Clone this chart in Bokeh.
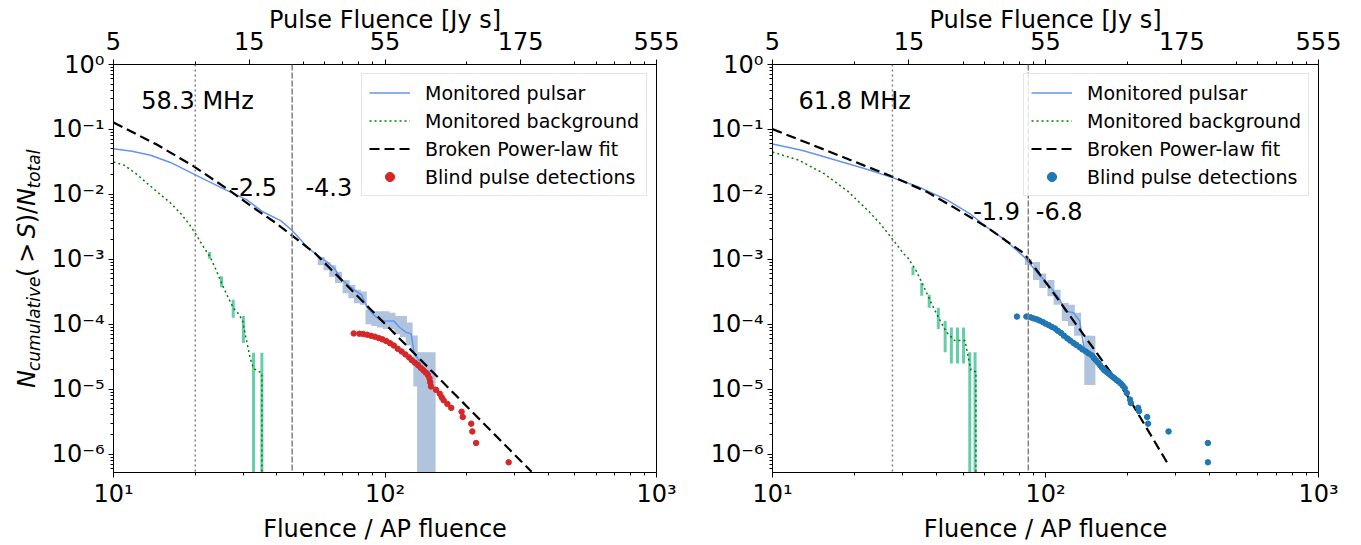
import math
from bokeh.plotting import figure
from bokeh.models import (Range1d, LogAxis, FixedTicker, CustomJSTickFormatter,
                          Span, Label, Legend, LegendItem)
from bokeh.layouts import row
from bokeh.embed import file_html
from bokeh.resources import INLINE

FONT = "DejaVu Sans"

# ---------------- ticks / labels ----------------
X_MAJOR = [10, 100, 1000]
X_MINOR = [20, 30, 40, 50, 60, 70, 80, 90, 200, 300, 400, 500, 600, 700, 800, 900]
Y_MAJOR = [1, 1e-1, 1e-2, 1e-3, 1e-4, 1e-5, 1e-6]
Y_MINOR = [m * 10.0 ** (-k) for k in range(1, 8) for m in range(2, 10)]
TOP_POS = [10, 31.62, 100, 316.2, 1000]
TOP_LABELS = ["5", "15", "55", "175", "555"]
TOP_MINOR = [20, 50, 60, 70, 80, 90, 200, 500, 600, 700, 800, 900]

# ---------------- 58.3 MHz panel ----------------
a_freq = "58.3 MHz"
a_idx = ["-2.5", "-4.3"]
a_vlines = [20.0, 45.5]

a_pul_x = [10, 11.7, 13.7, 16.2, 20.1, 25.9, 30.9, 35.2, 41.4, 45.6, 52.0, 57.3, 61.1, 65.2,
           69.5, 76.7, 81.8, 86.0, 91.7, 97.7, 107.8, 113.3, 118.9, 124.8, 128.0, 133.0,
           137.5, 149.2]
a_pul_y = [0.0503, 0.0462, 0.0400, 0.0310, 0.0198, 0.0117, 8.3e-3, 5.5e-3, 3.9e-3, 2.75e-3,
           1.5e-3, 1.1e-3, 9.1e-4, 7.2e-4, 4.8e-4, 3.4e-4, 2.85e-4, 1.79e-4, 1.34e-4, 1.12e-4,
           1.12e-4, 8.9e-5, 7.6e-5, 7.1e-5, 3.7e-5, 2.8e-5, 1.96e-5, 1.86e-5]

a_pulerr_x = [58.2, 61.1, 64.2, 67.4, 71.9, 75.5, 79.2, 83.2, 87.3, 91.7, 96.2, 101, 106.1,
              111.4, 116.9, 122.7, 128.1, 131, 135.3, 142, 149.1]
a_pulerr_hi = [1.08e-3, 9.1e-4, 8.1e-4, 6.4e-4, 4.8e-4, 4.0e-4, 3.4e-4, 3.2e-4, 1.69e-4, 1.59e-4,
               1.59e-4, 1.59e-4, 1.5e-4, 1.34e-4, 1.34e-4, 1.06e-4, 6.7e-5, 3.7e-5, 3.7e-5,
               3.7e-5, 3.7e-5]
a_pulerr_lo = [8.1e-4, 6.8e-4, 5.4e-4, 4.3e-4, 3.0e-4, 2.5e-4, 2.1e-4, 2.0e-4, 1.0e-4, 9.4e-5,
               8.9e-5, 8.4e-5, 8.4e-5, 7.0e-5, 6.3e-5, 4.7e-5, 3.7e-5, 1.1e-5, 1e-9, 1e-9, 1e-9]

a_bg_x = [10, 10.95, 12.07, 13.3, 14.9, 16.2, 17.8, 19.0, 20.1, 21.3, 22.7, 23.9, 25.0, 26.3,
          27.6, 29.0, 29.9, 30.9, 31.9, 32.8, 35.2, 35.2]
a_bg_y = [0.0316, 0.0281, 0.021, 0.0148, 9.9e-3, 7.4e-3, 4.9e-3, 3.47e-3, 2.45e-3, 1.63e-3,
          1.08e-3, 6.8e-4, 4.3e-4, 2.7e-4, 1.79e-4, 1.42e-4, 1.12e-4, 5.6e-5, 2.94e-5, 2.08e-5,
          1.75e-5, 1e-9]

a_bgerr_x = [22.6, 25.0, 27.6, 30.1, 32.8, 35.2]
a_bgerr_hi = [1.29e-3, 5.5e-4, 2.39e-4, 1.34e-4, 3.63e-5, 3.63e-5]
a_bgerr_lo = [1.02e-3, 3.7e-4, 1.26e-4, 5.15e-5, 1e-9, 1e-9]

a_fit_x = [10, 14.43, 19.63, 26.73, 32.46, 39.44, 46.39, 55.45, 346.6]
a_fit_y = [0.128, 0.0585, 0.0275, 0.0115, 6.4e-3, 3.67e-3, 2.18e-3, 1.22e-3, 5.33e-7]

a_blind_x = [76.7, 80.5, 83.2, 85.9, 88.8, 91.7, 94.7, 97.8, 101, 104.4, 107.8, 111.4, 115.1,
             118.9, 122.7, 125.6, 128.9, 132.3, 135.3, 138.4, 141.1, 143.9, 145.8, 146.7, 147.7,
             154.1, 159.1, 161.8, 164.4, 169.8, 175.4, 191.5, 193.4, 207.7, 209.7, 216.6, 285.4]
a_blind_y = [7.21e-5, 7.13e-5, 7.05e-5, 6.89e-5, 6.65e-5, 6.43e-5, 6.13e-5, 5.85e-5, 5.52e-5,
             5.09e-5, 4.69e-5, 4.18e-5, 3.8e-5, 3.43e-5, 3.08e-5, 2.78e-5, 2.56e-5, 2.34e-5,
             2.13e-5, 1.96e-5, 1.81e-5, 1.65e-5, 1.47e-5, 1.28e-5, 1.1e-5, 9.77e-6, 8.5e-6,
             7.47e-6, 6.73e-6, 5.92e-6, 5.15e-6, 4.48e-6, 3.72e-6, 2.94e-6, 2.23e-6, 1.48e-6,
             7.46e-7]

# ---------------- 61.8 MHz panel ----------------
b_freq = "61.8 MHz"
b_idx = ["-1.9", "-6.8"]
b_vlines = [27.5, 86.5]

b_pul_x = [10, 12.9, 17.1, 21.7, 27.5, 34.0, 43.4, 53.3, 61.3, 70.4, 83.6, 86.5, 92.7, 102.9,
           112.2, 118.1, 126.6, 133.4, 138.0, 142.9]
b_pul_y = [0.0598, 0.0475, 0.0335, 0.025, 0.0181, 0.0132, 8.3e-3, 4.9e-3, 3.08e-3, 2.05e-3,
           1.08e-3, 9.1e-4, 6.4e-4, 4.0e-4, 2.5e-4, 1.59e-4, 1.5e-4, 1.12e-4, 4.69e-5, 3.3e-5]

b_pulerr_x = [86.5, 92.7, 97.7, 104.7, 110.3, 118.1, 124.4, 131.1, 142.9, 147.9]
b_pulerr_hi = [1.0e-3, 9.1e-4, 6.05e-4, 4.8e-4, 3.39e-4, 2.13e-4, 2.0e-4, 1.5e-4, 6.65e-5, 6.65e-5]
b_pulerr_lo = [8.2e-4, 4.8e-4, 3.6e-4, 2.7e-4, 2.0e-4, 1.12e-4, 9.4e-5, 6.65e-5, 1.16e-5, 1.16e-5]

b_bg_x = [10, 12.5, 15.4, 18.9, 22.5, 24.9, 27.5, 30.2, 31.2, 33.5, 35.8, 38.4, 41.2, 43.4,
          46.5, 50.7, 53.3, 55.6, 55.6]
b_bg_y = [0.0448, 0.0335, 0.021, 0.0111, 5.5e-3, 3.47e-3, 2.05e-3, 1.22e-3, 1.08e-3, 6.8e-4,
          3.8e-4, 2.0e-4, 1.12e-4, 7.5e-5, 5.6e-5, 5.6e-5, 1.96e-5, 1.85e-5, 1e-9]

b_bgerr_x = [32.7, 35.2, 37.5, 40.5, 42.9, 45.2, 47.6, 50.1, 52.8, 55.2]
b_bgerr_hi = [7.6e-4, 4.3e-4, 2.84e-4, 1.79e-4, 1.12e-4, 8.9e-5, 8.9e-5, 8.9e-5, 3.7e-5, 3.7e-5]
b_bgerr_lo = [5.7e-4, 2.75e-4, 1.79e-4, 8.4e-5, 3.7e-5, 2.48e-5, 2.48e-5, 2.48e-5, 1e-9, 1e-9]

b_fit_x = [10, 15.4, 21.7, 27.5, 36.5, 46.5, 61.3, 83.6, 102.9, 198.5, 280.6]
b_fit_y = [0.101, 0.0493, 0.0277, 0.0187, 0.0111, 6.19e-3, 3.08e-3, 1.22e-3, 3.8e-4, 8.2e-6, 7.1e-7]

b_blind_x = [78.6, 85.1, 88.1, 90.2, 92.8, 95.0, 97.7, 100.1, 102.9, 105.4, 108.4, 111.0, 114.1,
             116.9, 120.2, 123.1, 126.6, 129.7, 133.4, 136.6, 140.5, 143.9, 147.9, 150.5, 153.1,
             155.8, 158.5, 161.3, 164.1, 167.0, 169.9, 172.8, 175.9, 178.9, 182.0, 185.2, 188.4,
             191.7, 195.1, 198.5, 204.0, 205.4, 218.6, 220.1, 235.8, 237.5, 282.3, 393.4, 393.4]
b_blind_y = [1.31e-4, 1.31e-4, 1.28e-4, 1.23e-4, 1.19e-4, 1.14e-4, 1.08e-4, 1.02e-4, 9.64e-5,
             9.1e-5, 8.59e-5, 7.9e-5, 7.3e-5, 6.65e-5, 6.05e-5, 5.6e-5, 5.15e-5, 4.8e-5, 4.43e-5,
             4.08e-5, 3.8e-5, 3.55e-5, 3.31e-5, 3.01e-5, 2.78e-5, 2.56e-5, 2.33e-5, 2.13e-5,
             1.96e-5, 1.85e-5, 1.75e-5, 1.65e-5, 1.55e-5, 1.47e-5, 1.38e-5, 1.31e-5, 1.23e-5,
             1.14e-5, 1.03e-5, 8.7e-6, 6.9e-6, 6.1e-6, 5.15e-6, 4.58e-6, 3.72e-6, 2.94e-6,
             2.23e-6, 1.48e-6, 7.46e-7]

LEGEND_LABELS = ["Monitored pulsar", "Monitored background", "Broken Power-law fit",
                 "Blind pulse detections"]

# y-axis title pieces of  N_cumulative(>S)/N_total :
# (text, style, font px, offset along the text in px, piece length in px, subscript shift px)
YLABEL_PIECES = [("N", "italic", 24, 0.0, 18.0, 0), ("cumulative", "italic", 17, 18.0, 94.5, 4),
                 ("(", "normal", 24, 113.0, 9.4, 0), (">", "normal", 24, 127.4, 20.1, 0),
                 ("S", "italic", 24, 152.5, 15.2, 0), (")", "normal", 24, 167.7, 9.4, 0),
                 ("/", "normal", 24, 177.1, 8.1, 0), ("N", "italic", 24, 185.2, 18.0, 0),
                 ("total", "italic", 17, 203.2, 38.9, 4)]

SUP_JS = """
const e = Math.round(Math.log10(tick));
const m = {"-": "\u207b", "0": "\u2070", "1": "\u00b9", "2": "\u00b2", "3": "\u00b3",
           "4": "\u2074", "5": "\u2075", "6": "\u2076", "7": "\u2077", "8": "\u2078", "9": "\u2079"};
let s = "";
for (const c of String(e)) { s += m[c]; }
return "10" + s;
"""

TOP_JS = """
let best = 0;
for (let i = 0; i < pos.length; i++) {
  if (Math.abs(Math.log10(pos[i] / tick)) < Math.abs(Math.log10(pos[best] / tick))) best = i;
}
return labs[best];
"""

H = 545
LAB_W = 48
B_TOP = 64
B_BOT = 66


def style_axis(ax):
    ax.major_label_text_font = FONT
    ax.major_label_text_font_size = "24px"
    ax.major_label_text_color = "black"
    ax.axis_label_text_font = FONT
    ax.axis_label_text_font_size = "24px"
    ax.axis_label_text_font_style = "normal"
    ax.axis_label_text_color = "black"
    ax.axis_line_color = "black"
    ax.axis_line_width = 1
    ax.major_tick_line_color = "black"
    ax.minor_tick_line_color = "black"
    ax.major_tick_in = 0
    ax.major_tick_out = 5
    ax.minor_tick_in = 0
    ax.minor_tick_out = 3


def make_label_strip():
    # narrow strip left of the first panel; its frame spans the same rows as the panels,
    # and its data coordinates equal page pixels measured from the page bottom
    s = figure(width=LAB_W, height=H, x_range=Range1d(0, LAB_W),
               y_range=Range1d(B_BOT, H - B_TOP),
               x_axis_location=None, y_axis_location=None, output_backend="svg",
               toolbar_location=None, min_border=0, min_border_left=0, min_border_right=0,
               min_border_top=B_TOP, min_border_bottom=B_BOT)
    s.xgrid.visible = False
    s.ygrid.visible = False
    s.outline_line_color = None
    s.background_fill_color = "white"
    s.border_fill_color = "white"
    baseline_x = 35.0      # page x of the text baseline
    start_y = 393.0        # page y where the rotated title starts (its bottom end)
    for t, st, fs, off, length, sub in YLABEL_PIECES:
        cx = baseline_x + sub - 0.345 * fs          # centre across the text
        cy_page = start_y - off - length / 2.0      # centre along the text
        s.add_layout(Label(x=cx, y=H - cy_page, text=t, angle=math.pi / 2,
                           angle_units="rad", text_font=FONT, text_font_style=st,
                           text_font_size=f"{fs}px", text_align="center",
                           text_baseline="middle", text_color="black"))
    return s


def make_panel(freq, idx, vlines, pul_x, pul_y, pe_x, pe_hi, pe_lo, bg_x, bg_y,
               be_x, be_hi, be_lo, fit_x, fit_y, bl_x, bl_y, dot_color,
               width, bl, br, freq_pos, idx_pos):
    p = figure(width=width, height=H, x_axis_type="log", y_axis_type="log",
               x_range=Range1d(10, 1000), y_range=Range1d(5.2e-7, 1),
               output_backend="svg", toolbar_location=None,
               min_border_left=bl, min_border_right=br, min_border_top=B_TOP,
               min_border_bottom=B_BOT)
    p.xgrid.visible = False
    p.ygrid.visible = False
    p.outline_line_color = "black"
    p.outline_line_width = 1
    p.background_fill_color = "white"
    p.border_fill_color = "white"

    p.xaxis.ticker = FixedTicker(ticks=X_MAJOR, minor_ticks=X_MINOR)
    p.yaxis.ticker = FixedTicker(ticks=Y_MAJOR, minor_ticks=Y_MINOR)
    p.xaxis.formatter = CustomJSTickFormatter(code=SUP_JS)
    p.yaxis.formatter = CustomJSTickFormatter(code=SUP_JS)
    p.xaxis.axis_label = "Fluence / AP fluence"
    style_axis(p.xaxis[0])
    style_axis(p.yaxis[0])
    p.xaxis.major_label_standoff = 2
    p.xaxis.axis_label_standoff = 4
    p.yaxis.major_label_standoff = 4

    top = LogAxis(ticker=FixedTicker(ticks=TOP_POS, minor_ticks=TOP_MINOR),
                  formatter=CustomJSTickFormatter(args=dict(pos=TOP_POS, labs=TOP_LABELS),
                                                  code=TOP_JS),
                  axis_label="Pulse Fluence [Jy s]")
    style_axis(top)
    top.major_label_standoff = 10
    top.axis_label_standoff = -5
    p.add_layout(top, "above")

    p.add_layout(Span(location=vlines[0], dimension="height", line_color="gray",
                      line_dash="2 3", line_width=1.5))
    p.add_layout(Span(location=vlines[1], dimension="height", line_color="gray",
                      line_dash="6 2", line_width=1.5))

    p.segment(x0=be_x, y0=be_lo, x1=be_x, y1=be_hi, line_color="#66cdaa", line_width=3)
    p.segment(x0=pe_x, y0=pe_lo, x1=pe_x, y1=pe_hi, line_color="#b0c4de", line_width=7)
    r_pul = p.line(pul_x, pul_y, line_color="#6495ed", line_width=1.5)
    r_bg = p.line(bg_x, bg_y, line_color="green", line_width=1.5, line_dash="2 3")
    r_fit = p.line(fit_x, fit_y, line_color="black", line_width=2.2, line_dash="10 5")
    r_bl = p.scatter(bl_x, bl_y, size=5.5, fill_color=dot_color, line_color=dot_color)

    legend = Legend(items=[LegendItem(label=LEGEND_LABELS[0], renderers=[r_pul]),
                           LegendItem(label=LEGEND_LABELS[1], renderers=[r_bg]),
                           LegendItem(label=LEGEND_LABELS[2], renderers=[r_fit]),
                           LegendItem(label=LEGEND_LABELS[3], renderers=[r_bl])],
                    location="top_right")
    legend.label_text_font = FONT
    legend.label_text_font_size = "19px"
    legend.label_text_color = "black"
    legend.glyph_width = 41
    legend.glyph_height = 23
    legend.label_height = 23
    legend.label_standoff = 15
    legend.padding = 7
    legend.spacing = 5
    legend.margin = 9
    legend.border_line_color = "#cccccc"
    legend.border_line_width = 1
    legend.background_fill_alpha = 0.8
    p.add_layout(legend)

    p.add_layout(Label(x=freq_pos[0], y=freq_pos[1], text=freq, text_font=FONT,
                       text_font_size="24px", text_align="left",
                       text_baseline="alphabetic", text_color="black"))
    for (tx, ty), t in zip(idx_pos, idx):
        p.add_layout(Label(x=tx, y=ty, text=t, text_font=FONT, text_font_size="24px",
                           text_align="center", text_baseline="alphabetic",
                           text_color="black"))
    return p


strip = make_label_strip()
p1 = make_panel(a_freq, a_idx, a_vlines, a_pul_x, a_pul_y, a_pulerr_x, a_pulerr_hi, a_pulerr_lo,
                a_bg_x, a_bg_y, a_bgerr_x, a_bgerr_hi, a_bgerr_lo, a_fit_x, a_fit_y,
                a_blind_x, a_blind_y, "#d62728", 680 - LAB_W, 110 - LAB_W, 24,
                (12.66, 0.278), [(32.8, 0.01307), (62.1, 0.01307)])
p2 = make_panel(b_freq, b_idx, b_vlines, b_pul_x, b_pul_y, b_pulerr_x, b_pulerr_hi, b_pulerr_lo,
                b_bg_x, b_bg_y, b_bgerr_x, b_bgerr_hi, b_bgerr_lo, b_fit_x, b_fit_y,
                b_blind_x, b_blind_y, "#1f77b4", 681, 92, 43,
                (12.45, 0.278), [(66.2, 5.6e-3), (112.2, 5.6e-3)])

layout = row(strip, p1, p2)
open("out.html", "w", encoding="utf-8").write(file_html(layout, INLINE))
